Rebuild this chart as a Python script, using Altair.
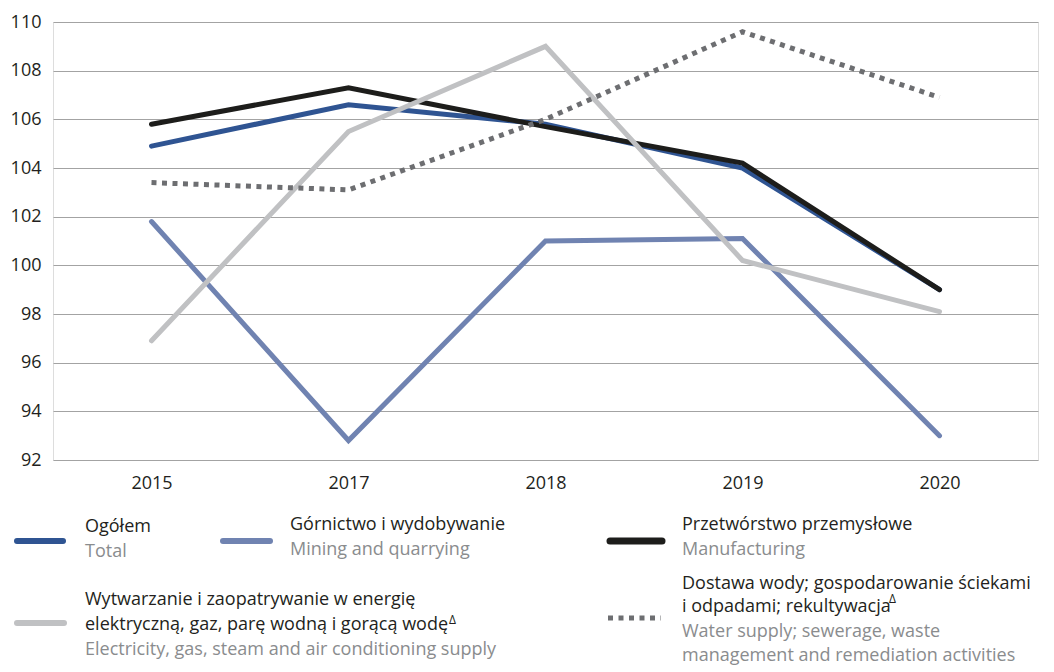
import altair as alt
import pandas as pd

years = ["2015", "2017", "2018", "2019", "2020"]
total = [104.9, 106.6, 105.8, 104.0, 99.0]
mining = [101.8, 92.8, 101.0, 101.1, 93.0]
manufacturing = [105.8, 107.3, 105.7, 104.2, 99.0]
electricity = [96.9, 105.5, 109.0, 100.2, 98.1]
water = [103.4, 103.1, 106.0, 109.6, 106.9]

series_keys = ["total", "mining", "manufacturing", "electricity", "water"]
series_values = [total, mining, manufacturing, electricity, water]
series_colors = ["#2f5492", "#7083b1", "#1d1d1b", "#c0c1c3", "#6d6e71"]

legend_pl = {
    "total": ["Ogółem"],
    "mining": ["Górnictwo i wydobywanie"],
    "manufacturing": ["Przetwórstwo przemysłowe"],
    "electricity": ["Wytwarzanie i zaopatrywanie w energię",
                    "elektryczną, gaz, parę wodną i gorącą wodę"],
    "water": ["Dostawa wody; gospodarowanie ściekami",
              "i odpadami; rekultywacja"],
}
legend_en = {
    "total": ["Total"],
    "mining": ["Mining and quarrying"],
    "manufacturing": ["Manufacturing"],
    "electricity": ["Electricity, gas, steam and air conditioning supply"],
    "water": ["Water supply; sewerage, waste",
              "management and remediation activities"],
}

rows = []
for key, vals in zip(series_keys, series_values):
    for yr, v in zip(years, vals):
        rows.append({"series": key, "year": yr, "value": v})
df = pd.DataFrame(rows)

FONT = "Open Sans"
TXT = "#231f20"
EN = "#8a8c8e"
FS = 18

W, H = 985, 438

x_enc = alt.X("year:N", sort=years, title=None,
              axis=alt.Axis(domain=False, ticks=False, labelAngle=0, labelPadding=14,
                            labelFontSize=FS, labelColor=TXT, labelFont=FONT, grid=False))
y_enc = alt.Y("value:Q", title=None,
              scale=alt.Scale(domain=[92, 110], nice=False, zero=False),
              axis=alt.Axis(domain=False, ticks=False, values=list(range(92, 111, 2)),
                            labelPadding=12, labelFontSize=FS, labelColor=TXT, labelFont=FONT,
                            grid=True, gridColor="#a3a3a3", gridWidth=1))

layers = []
draw_order = ["mining", "total", "manufacturing", "electricity", "water"]
for key in draw_order:
    col = series_colors[series_keys.index(key)]
    if key == "water":
        mk = alt.Chart(df).mark_line(color=col, strokeWidth=5, strokeDash=[5, 5.5], strokeCap="butt")
    else:
        mk = alt.Chart(df).mark_line(color=col, strokeWidth=5, strokeCap="round", strokeJoin="miter")
    layers.append(mk.encode(x=x_enc, y=y_enc).transform_filter(alt.datum.series == key))

dummy = pd.DataFrame({"a": [0]})


def swatch(key, x1, x2, y, width=6):
    col = series_colors[series_keys.index(key)]
    if key == "water":
        m = alt.Chart(dummy).mark_rule(color=col, strokeWidth=5, strokeDash=[5, 5.5], strokeCap="butt")
    else:
        m = alt.Chart(dummy).mark_rule(color=col, strokeWidth=width, strokeCap="round")
    return m.encode(x=alt.value(x1), x2=alt.value(x2), y=alt.value(y))


def text(lines, x, y, color, size=FS, lh=25):
    return alt.Chart(dummy).mark_text(
        text=lines if len(lines) > 1 else lines[0], align="left", baseline="alphabetic",
        font=FONT, fontSize=size, color=color, lineHeight=lh
    ).encode(x=alt.value(x), y=alt.value(y))


# legend (pixel positions relative to plot origin)
leg = []
leg.append(swatch("total", -36, 10, 519))
leg.append(text(legend_pl["total"], 32, 510, TXT))
leg.append(text(legend_en["total"], 32, 535, EN))

leg.append(swatch("mining", 170, 217, 519))
leg.append(text(legend_pl["mining"], 237, 508, TXT))
leg.append(text(legend_en["mining"], 237, 533, EN))

leg.append(swatch("manufacturing", 557, 609, 519, width=7))
leg.append(text(legend_pl["manufacturing"], 629, 508, TXT))
leg.append(text(legend_en["manufacturing"], 629, 533, EN))

leg.append(swatch("electricity", -36, 11, 601))
leg.append(text(legend_pl["electricity"], 32, 583, TXT))
leg.append(text(["Δ"], 396, 602, TXT, size=12))
leg.append(text(legend_en["electricity"], 32, 633, EN))

leg.append(swatch("water", 555, 608, 596))
leg.append(text(legend_pl["water"], 629, 567, TXT, lh=23))
leg.append(text(["Δ"], 836, 581, TXT, size=12))
leg.append(text(legend_en["water"], 629, 615, EN, lh=24))

chart = alt.layer(*layers, *leg).properties(
    width=W, height=H,
    autosize=alt.AutoSizeParams(type="none"),
    padding={"left": 45, "top": 14, "right": 8, "bottom": 212},
).configure_view(stroke=None).configure(font=FONT)

chart.save("out.html", embed_options={"renderer": "svg", "actions": False})
